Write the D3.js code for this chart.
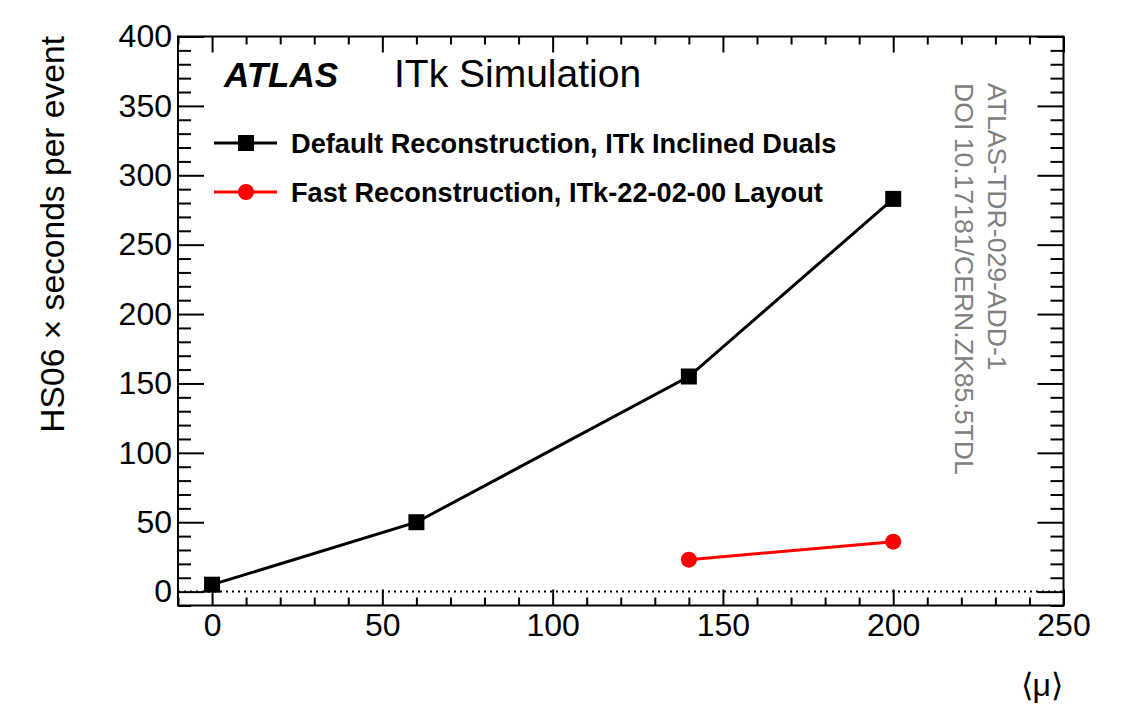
<!DOCTYPE html>
<html>
<head>
<meta charset="utf-8">
<script src="https://cdn.jsdelivr.net/npm/d3@7"></script>
<style>
  body { margin: 0; background: #fff; }
  svg { font-family: "Liberation Sans", Arial, Helvetica, sans-serif; }
</style>
</head>
<body>
<svg id="chart" width="1124" height="706"></svg>
<script>
    // Data
    const muDefault = [0, 60, 140, 200];
    const timeDefault = [5, 50, 155, 283];
    const muFast = [140, 200];
    const timeFast = [23, 36];

    const xMajor = [0, 50, 100, 150, 200, 250];
    const yMajor = [0, 50, 100, 150, 200, 250, 300, 350, 400];

    const legendLabels = [
      "Default Reconstruction, ITk Inclined Duals",
      "Fast Reconstruction, ITk-22-02-00 Layout"
    ];

    const defaultData = muDefault.map((m, i) => ({ mu: m, t: timeDefault[i] }));
    const fastData = muFast.map((m, i) => ({ mu: m, t: timeFast[i] }));

    // Frame of the plot
    const frame = { left: 178, right: 1063.5, top: 36.5, bottom: 605.5 };

    const svg = d3.select("#chart");

    const x = d3.scaleLinear()
      .domain([-10, 250])
      .range([frame.left, frame.right]);

    const y = d3.scaleLinear()
      .domain([-10, 400])
      .range([frame.bottom, frame.top]);

    const xMinor = d3.range(-10, 251, 10).filter(v => !xMajor.includes(v));
    const yMinor = d3.range(-10, 401, 10).filter(v => !yMajor.includes(v));

    // helper to draw one set of ticks
    function ticks(axisFn, scale, values, size, transform, labels, padding) {
      const ax = axisFn(scale)
        .tickValues(values)
        .tickSizeInner(-size)
        .tickSizeOuter(0)
        .tickPadding(padding || 0);
      if (!labels) ax.tickFormat("");
      const g = svg.append("g")
        .attr("transform", transform)
        .call(ax);
      g.select(".domain").remove();
      g.selectAll(".tick line").attr("stroke", "#000").attr("stroke-width", 2);
      g.selectAll(".tick text")
        .attr("fill", "#000")
        .style("font-size", "32px");
      return g;
    }

    // Bottom / top
    ticks(d3.axisBottom, x, xMajor, 16, `translate(0,${frame.bottom})`, true, 8);
    ticks(d3.axisBottom, x, xMinor, 8, `translate(0,${frame.bottom})`, false);
    ticks(d3.axisTop, x, xMajor, 16, `translate(0,${frame.top})`, false);
    ticks(d3.axisTop, x, xMinor, 8, `translate(0,${frame.top})`, false);

    // Left / right
    ticks(d3.axisLeft, y, yMajor, 26, `translate(${frame.left},0)`, true, 6);
    ticks(d3.axisLeft, y, yMinor, 13, `translate(${frame.left},0)`, false);
    ticks(d3.axisRight, y, yMajor, 26, `translate(${frame.right},0)`, false);
    ticks(d3.axisRight, y, yMinor, 13, `translate(${frame.right},0)`, false);

    // dotted zero line
    svg.append("line")
      .attr("x1", frame.left).attr("x2", frame.right)
      .attr("y1", y(0)).attr("y2", y(0))
      .attr("stroke", "#000")
      .attr("stroke-width", 2)
      .attr("stroke-dasharray", "2,4");

    // frame
    svg.append("rect")
      .attr("x", frame.left).attr("y", frame.top)
      .attr("width", frame.right - frame.left)
      .attr("height", frame.bottom - frame.top)
      .attr("fill", "none")
      .attr("stroke", "#000")
      .attr("stroke-width", 2);

    const line = d3.line()
      .x(d => x(d.mu))
      .y(d => y(d.t));

    // Default reconstruction
    svg.append("path")
      .datum(defaultData)
      .attr("d", line)
      .attr("fill", "none")
      .attr("stroke", "#000")
      .attr("stroke-width", 3);

    svg.selectAll(".sq")
      .data(defaultData)
      .join("rect")
      .attr("class", "sq")
      .attr("x", d => x(d.mu) - 8)
      .attr("y", d => y(d.t) - 8)
      .attr("width", 16)
      .attr("height", 16)
      .attr("fill", "#000");

    // Fast reconstruction
    svg.append("path")
      .datum(fastData)
      .attr("d", line)
      .attr("fill", "none")
      .attr("stroke", "#ff0000")
      .attr("stroke-width", 3);

    svg.selectAll(".dot")
      .data(fastData)
      .join("circle")
      .attr("class", "dot")
      .attr("cx", d => x(d.mu))
      .attr("cy", d => y(d.t))
      .attr("r", 8)
      .attr("fill", "#ff0000");

    // ATLAS label
    svg.append("text")
      .attr("x", 224).attr("y", 87)
      .style("font-size", "35px")
      .style("font-weight", "bold")
      .style("font-style", "italic")
      .text("ATLAS");

    svg.append("text")
      .attr("x", 394).attr("y", 87)
      .style("font-size", "39px")
      .text("ITk Simulation");

    // Legend
    const legY = [143, 192];
    const leg = svg.append("g");
    legendLabels.forEach((lab, i) => {
      const col = i === 0 ? "#000" : "#ff0000";
      leg.append("line")
        .attr("x1", 214).attr("x2", 277)
        .attr("y1", legY[i]).attr("y2", legY[i])
        .attr("stroke", col).attr("stroke-width", 3);
      if (i === 0) {
        leg.append("rect")
          .attr("x", 238).attr("y", legY[i] - 8)
          .attr("width", 16).attr("height", 16)
          .attr("fill", col);
      } else {
        leg.append("circle")
          .attr("cx", 246).attr("cy", legY[i])
          .attr("r", 8).attr("fill", col);
      }
      leg.append("text")
        .attr("x", 291).attr("y", legY[i] + 10)
        .style("font-size", "27.2px")
        .style("font-weight", "bold")
        .text(lab);
    });

    // Vertical reference text
    svg.append("text")
      .attr("transform", "translate(988,83) rotate(90)")
      .style("font-size", "26.6px")
      .attr("fill", "#808080")
      .text("ATLAS-TDR-029-ADD-1");

    svg.append("text")
      .attr("transform", "translate(955,83) rotate(90)")
      .style("font-size", "26.6px")
      .attr("fill", "#808080")
      .text("DOI 10.17181/CERN.ZK85.5TDL");

    // Axis titles
    svg.append("text")
      .attr("transform", "translate(64,36) rotate(-90)")
      .attr("text-anchor", "end")
      .style("font-size", "33.6px")
      .text("HS06 \u00d7 seconds per event");

    svg.append("text")
      .attr("x", 1063).attr("y", 696)
      .attr("text-anchor", "end")
      .style("font-size", "32px")
      .text("\u27e8\u03bc\u27e9");
</script>
</body>
</html>
